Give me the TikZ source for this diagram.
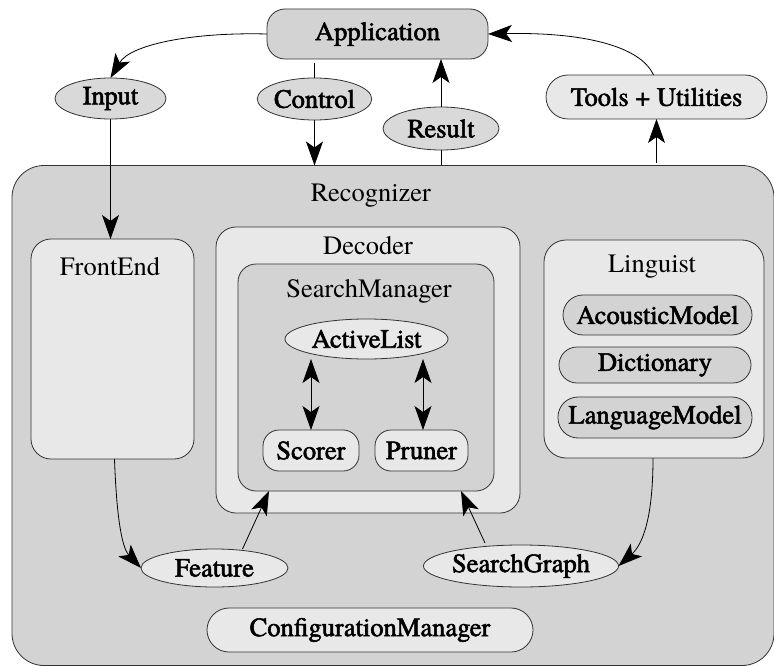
\documentclass[tikz,border=0pt]{standalone}
\usepackage{fontspec}
\setmainfont{TeX Gyre Termes}
\newfontfamily\lblfont{TeX Gyre Termes}[FakeBold=2]
\usetikzlibrary{arrows.meta,shapes.geometric}
\definecolor{darkfill}{HTML}{D3D3D3}
\definecolor{midfill}{HTML}{D9D9D9}
\definecolor{lightfill}{HTML}{E8E8E8}
\definecolor{edge}{HTML}{333333}
\tikzset{
  every node/.style={inner sep=0pt, outer sep=0pt},
  container/.style={draw=edge, line width=0.8pt, rounded corners=#1},
  container/.default=20pt,
  pill/.style={draw=edge, line width=0.8pt, rounded corners=#1, font=\lblfont\fontsize{26.5}{30}\selectfont},
  pill/.default=18pt,
  oval/.style={draw=edge, line width=0.8pt, ellipse, font=\lblfont\fontsize{26.5}{30}\selectfont},
  title/.style={font=\fontsize{26.5}{30}\selectfont},
  conn/.style={line width=0.8pt, black},
  arr/.style={conn, -{Stealth[length=24pt,width=17pt,inset=6pt]}},
  darr/.style={conn, {Stealth[length=24pt,width=17pt,inset=6pt]}-{Stealth[length=24pt,width=17pt,inset=6pt]}},
}
\begin{document}
\begin{tikzpicture}[x=1pt,y=-1pt]
\useasboundingbox (0,0) rectangle (774,666);
% Recognizer container
\node[container=32pt, fill=darkfill, minimum width=762pt, minimum height=500pt] (rec) at (393,415.5) {};
\node[title] (reclbl) at (371,196) {Recognizer};
% Top nodes
\node[pill=18pt, fill=darkfill, minimum width=221pt, minimum height=50pt] (app) at (377.5,34) {Application};
\node[oval, fill=midfill, minimum width=111pt, minimum height=41pt] (input) at (110.5,98.5) {Input};
\node[oval, fill=midfill, minimum width=111pt, minimum height=42pt] (control) at (314.5,99) {Control};
\node[oval, fill=midfill, minimum width=116pt, minimum height=43pt] (result) at (441,128.5) {Result};
\node[pill=22pt, fill=lightfill, minimum width=221pt, minimum height=44pt] (tools) at (656.5,97) {Tools + Utilities};
% FrontEnd
\node[container=20pt, fill=lightfill, minimum width=163pt, minimum height=220pt] (fe) at (112.5,349) {};
\node[title] (felbl) at (110,267) {FrontEnd};
% Decoder
\node[container=20pt, fill=lightfill, minimum width=304pt, minimum height=286pt] (dec) at (368,370) {};
\node[title] (declbl) at (368,246) {Decoder};
\node[container=18pt, fill=darkfill, minimum width=256pt, minimum height=227pt] (sm) at (366,377.5) {};
\node[title] (smlbl) at (369,291) {SearchManager};
\node[oval, fill=lightfill, minimum width=163pt, minimum height=40pt] (al) at (366.5,339) {ActiveList};
\node[pill=16pt, fill=lightfill, minimum width=96pt, minimum height=41pt] (scorer) at (311,450.5) {Scorer};
\node[pill=16pt, fill=lightfill, minimum width=93pt, minimum height=41pt] (pruner) at (421.5,450.5) {Pruner};
% Linguist
\node[container=22pt, fill=lightfill, minimum width=220pt, minimum height=218pt] (ling) at (654,349) {};
\node[title] (linglbl) at (652,267) {Linguist};
\node[pill=20pt, fill=darkfill, minimum width=189pt, minimum height=40pt] (am) at (657.5,315) {AcousticModel};
\node[pill=18pt, fill=darkfill, minimum width=192pt, minimum height=36pt] (dict) at (655,365) {Dictionary};
\node[pill=20pt, fill=darkfill, minimum width=194pt, minimum height=41pt] (lm) at (655,417.5) {LanguageModel};
% Bottom nodes
\node[oval, fill=lightfill, minimum width=147pt, minimum height=38pt] (feat) at (214.5,568) {Feature};
\node[oval, fill=lightfill, minimum width=186pt, minimum height=42pt] (sg) at (521,566) {SearchGraph};
\node[pill=22pt, fill=lightfill, minimum width=326pt, minimum height=44pt] (cm) at (370,630) {ConfigurationManager};
% Connectors
\draw[arr] (app.west) .. controls (190,32) and (130,45) .. (input.north);
\draw[conn] (app.south -| control.north) ++(0,4) -- (control.north);
\draw[arr] (control.south) -- (control.south |- rec.north);
\draw[conn] (result.south |- rec.north) -- (result.south);
\draw[arr] (result.north) -- (result.north |- app.south);
\draw[arr] (tools.south |- rec.north) ++(0,-2) -- (tools.south);
\draw[arr] (tools.north) ++(-3,0) .. controls (640,45) and (580,32) .. (app.east);
\draw[arr] (input.south) -- (input.south |- fe.north);
\draw[darr] (al.south -| scorer.north) -- (scorer.north);
\draw[darr] (al.south -| 423,0) -- (423,0 |- pruner.north);
\draw[arr] (fe.south) ++(2,0) .. controls (117,530) and (124,550) .. (feat.west);
\draw[arr] (feat.north) ++(28,0) -- (269,491);
\draw[arr] (sg.north) ++(-36,-2) -- (461,491);
\draw[arr] (ling.south) ++(-1,0) .. controls (653,520) and (642,545) .. (sg.east);
\end{tikzpicture}
\end{document}
